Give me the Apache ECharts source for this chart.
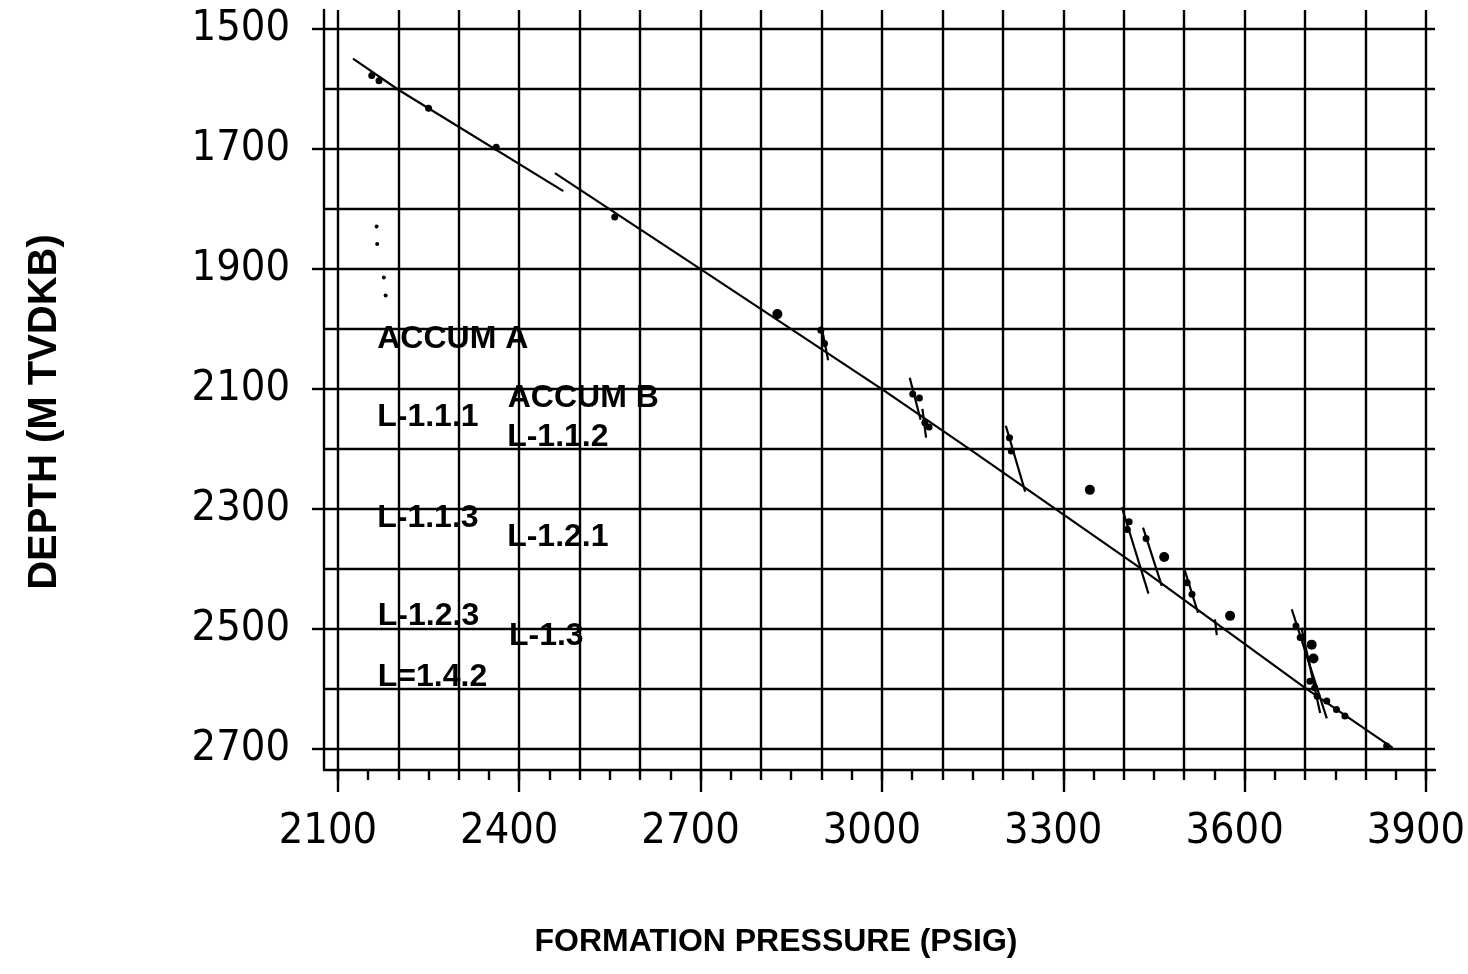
<!DOCTYPE html>
<html><head><meta charset="utf-8">
<script src="https://cdn.jsdelivr.net/npm/echarts@6/dist/echarts.min.js"></script>
<style>html,body{margin:0;padding:0;background:#fff}#c{width:1468px;height:974px}</style>
</head><body><div id="c"></div>
<script>
// ---- tick values / labels ----
const xGridValues = [2100,2200,2300,2400,2500,2600,2700,2800,2900,3000,3100,3200,3300,3400,3500,3600,3700,3800,3900];
const xMinorTicks = [2150,2250,2350,2450,2550,2650,2750,2850,2950,3050,3150,3250,3350,3450,3550,3650,3750,3850];
const xMajorTicks = [2100,2400,2700,3000,3300,3600,3900];
const yGridValues = [1500,1600,1700,1800,1900,2000,2100,2200,2300,2400,2500,2600,2700];
const yLabelTicks = [1500,1700,1900,2100,2300,2500,2700];

// ---- trend lines [pressure psig, depth m] ----
const trendUpper = [[2125,1549],[2200,1601],[2473,1770]];
const trendLower = [[2459,1740],[2700,1900],[3000,2100],[3145,2200],[3430,2400],[3700,2598],[3845,2698]];

// ---- local gradient segments through test points ----
const gradientSegments = [
  [[2900,1995],[2911,2052]],
  [[3046,2081],[3064,2151]],
  [[3067,2133],[3073,2181]],
  [[3205,2161],[3237,2271]],
  [[3397,2297],[3441,2441]],
  [[3432,2331],[3463,2428]],
  [[3501,2402],[3523,2473]],
  [[3551,2484],[3554,2510]],
  [[3678,2467],[3736,2649]],
  [[3694,2498],[3725,2640]]
];

// ---- measured pressure points ----
const pointsLarge = [[2827,1975],[3344,2268],[3467,2380],[3576,2478],[3711,2526],[3714,2549]];
const pointsSmall = [[2156,1577],[2168,1586],[2250,1632],[2362,1697],[2558,1813],
  [2899,2002],[2905,2024],[3051,2108],[3062,2115],[3071,2156],[3078,2163],
  [3211,2181],[3214,2203],[3409,2321],[3406,2334],[3437,2349],[3505,2423],[3513,2442],
  [3685,2495],[3692,2514],[3708,2587],[3716,2598],[3720,2612],[3736,2620],[3752,2634],[3766,2645],[3835,2695]];
const pointsSpecks = [[2164,1829],[2165,1858],[2176,1914],[2179,1944]];

// ---- annotations ----
const annotationText  = ['ACCUM A','ACCUM B','L-1.1.1','L-1.1.2','L-1.1.3','L-1.2.1','L-1.2.3','L-1.3','L=1.4.2'];
const annotationPsi   = [2165,2381,2165,2380,2165,2380,2166,2383,2166];
const annotationDepth = [2017,2115,2147,2180,2316,2347,2479,2512,2581];

const INK = '#000';
const tickFont = "'DejaVu Sans Condensed','Liberation Sans Narrow','Liberation Sans',sans-serif";
const boldFont = "'Liberation Sans',Arial,sans-serif";
const X_MIN = 2077, X_MAX = 3915, Y_MIN = 1468, Y_MAX = 2735;

const gridStyle = {color: INK, width: 2.4};
const lineStyle = {color: INK, width: 2.2};
const plain = v => String(v);

function xAx(extra) {
  return Object.assign({
    type: 'value', min: X_MIN, max: X_MAX, position: 'bottom',
    axisLine: {show: false, onZero: false},
    axisTick: {show: false},
    axisLabel: {show: false},
    splitLine: {show: false}
  }, extra);
}
function yAx(extra) {
  return Object.assign({
    type: 'value', min: Y_MIN, max: Y_MAX, inverse: true, position: 'left',
    axisLine: {show: false, onZero: false},
    axisTick: {show: false},
    axisLabel: {show: false},
    splitLine: {show: false}
  }, extra);
}

const series = [];
series.push({type:'line', data: trendUpper, symbol:'none', lineStyle: lineStyle, silent:true, z:3});
series.push({type:'line', data: trendLower, symbol:'none', lineStyle: lineStyle, silent:true, z:3});
gradientSegments.forEach(seg => series.push({type:'line', data: seg, symbol:'none', lineStyle: lineStyle, silent:true, z:3}));
series.push({type:'scatter', data: pointsLarge, symbol:'circle', symbolSize: 10, itemStyle:{color: INK, opacity:1}, z:4});
series.push({type:'scatter', data: pointsSmall, symbol:'circle', symbolSize: 7, itemStyle:{color: INK, opacity:1}, z:4});
series.push({type:'scatter', data: pointsSpecks, symbol:'circle', symbolSize: 4, itemStyle:{color: INK, opacity:1}, z:4});
series.push({
  type:'scatter', symbolSize: 0, z:5,
  itemStyle:{opacity:1},
  data: annotationText.map((t, i) => ({name: t, value: [annotationPsi[i], annotationDepth[i]]})),
  label: {show:true, position:'right', distance:0, formatter: p => p.name, opacity:1,
          color: INK, fontFamily: boldFont, fontWeight:'bold', fontSize: 32}
});

const option = {
  animation: false,
  backgroundColor: '#fff',
  grid: {left: 324, top: 10, width: 1111, height: 760, containLabel: false, outerBoundsMode: 'none'},
  xAxis: [
    xAx({axisLine:{show:true, onZero:false, lineStyle: gridStyle},
         axisTick:{show:true, customValues: xGridValues, length: 10, lineStyle: gridStyle},
         splitLine:{show:true, lineStyle: gridStyle}}),
    xAx({axisTick:{show:true, customValues: xMinorTicks, length: 10, lineStyle: gridStyle}}),
    xAx({axisTick:{show:true, customValues: xMajorTicks, length: 22, lineStyle: gridStyle},
         axisLabel:{show:true, customValues: xMajorTicks, margin: 40, color: INK, formatter: plain,
                    fontFamily: tickFont, fontSize: 43, padding:[0,20,0,0]}})
  ],
  yAxis: [
    yAx({axisLine:{show:true, onZero:false, lineStyle: gridStyle},
         axisTick:{show:false, customValues: yGridValues},
         splitLine:{show:true, lineStyle: gridStyle}}),
    yAx({axisTick:{show:true, customValues: yLabelTicks, length: 12, lineStyle: gridStyle},
         axisLabel:{show:true, customValues: yLabelTicks, margin: 34, color: INK, formatter: plain,
                    fontFamily: tickFont, fontSize: 43}})
  ],
  graphic: [
    {type:'text', x: 45, y: 412, rotation: Math.PI/2,
     style:{text:'DEPTH (M TVDKB)', fill: INK, font: "bold 40px 'Liberation Sans', Arial, sans-serif",
            align:'center', verticalAlign:'middle'}},
    {type:'text', x: 776, y: 942,
     style:{text:'FORMATION PRESSURE (PSIG)', fill: INK, font: "bold 32px 'Liberation Sans', Arial, sans-serif",
            align:'center', verticalAlign:'middle'}}
  ],
  series: series
};

const chart = echarts.init(document.getElementById('c'), null, {renderer:'canvas'});
chart.setOption(option);
</script>
</body></html>
